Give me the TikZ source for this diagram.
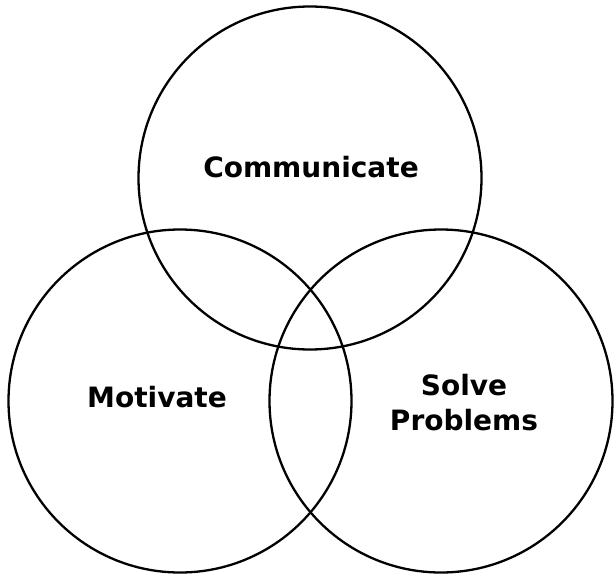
\documentclass[tikz,border=0pt]{standalone}
\usepackage{fontspec}
\setmainfont{DejaVu Sans}
\usepackage{tikz}
\usetikzlibrary{positioning}

\begin{document}
\begin{tikzpicture}[x=1pt,y=-1pt]
        \useasboundingbox (0,0) rectangle (615,578);
        \tikzset{ring/.style={draw,line width=2.3pt,circle,minimum size=343pt,inner sep=0pt},
          lbl/.style={font=\fontsize{28}{35}\selectfont\bfseries,align=center,anchor=base,inner sep=0pt}}
        \node[ring] (top) at (310,178){};
        \node[ring] (left) at (180,401){};
        \node[ring] (right) at (441,401){};
        \node[lbl] (comm) at (311,177){Communicate};
        \node[lbl] (moti) at (157,407){Motivate};
        \node[lbl] (solve) at (464,430){Solve\\Problems};
      \end{tikzpicture}
\end{document}
